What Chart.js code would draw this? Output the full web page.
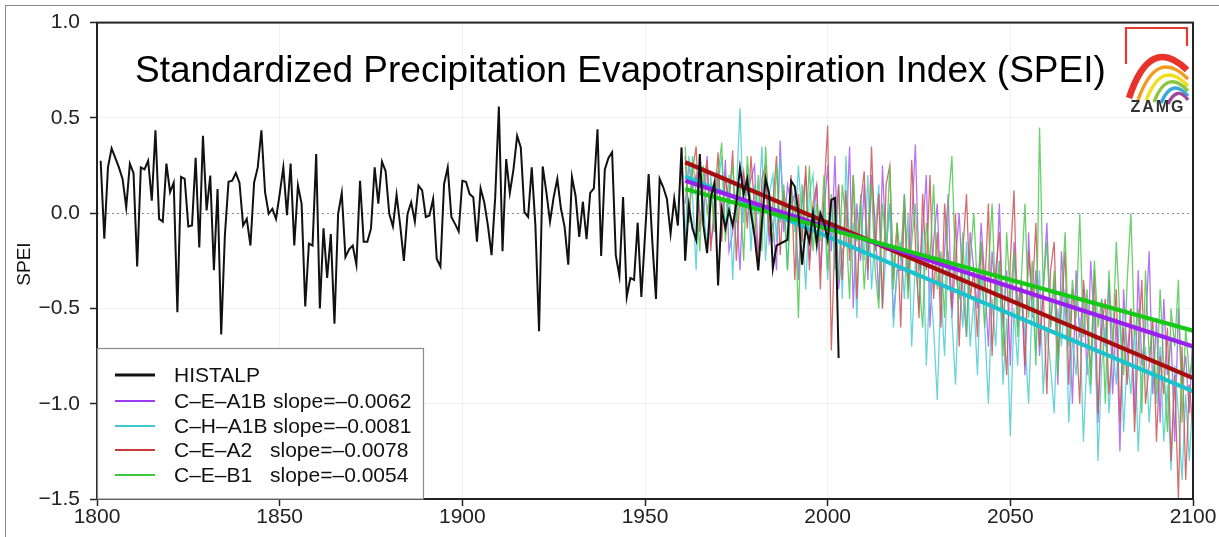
<!DOCTYPE html>
<html><head><meta charset="utf-8">
<script src="https://cdn.jsdelivr.net/npm/chart.js@4.4.0/dist/chart.umd.min.js"></script>
<style>
html,body{margin:0;padding:0;background:#fff;}
#wrap{position:relative;width:1219px;height:537px;overflow:hidden;}
#frame{position:absolute;left:5px;top:5px;right:-2px;bottom:-2px;border-top:1px solid #8a8a8a;border-left:1px solid #8a8a8a;pointer-events:none;}
canvas{display:block;}
</style></head><body>
<div id="wrap"><canvas id="c" width="1219" height="537"></canvas><div id="frame"></div></div>
<script>
// ---------- DATA ----------
const titleText = 'Standardized Precipitation Evapotranspiration Index (SPEI)';
const yAxisTitle = 'SPEI';
const xTicks = [1800, 1850, 1900, 1950, 2000, 2050, 2100];
const yTicks = [-1.5, -1.0, -0.5, 0.0, 0.5, 1.0];

const histStart = 1801;
const histalp = [
 0.275,-0.134,0.24,0.34,0.29,0.24,0.18,0.03,0.26,0.21,
 -0.28,0.24,0.23,0.275,0.066,0.435,-0.03,-0.044,0.26,0.11,
 0.16,-0.52,0.19,0.18,-0.07,-0.065,0.29,-0.18,0.406,0.014,
 0.197,-0.30,0.127,-0.636,-0.117,0.165,0.17,0.21,0.16,-0.065,
 -0.03,-0.17,0.16,0.24,0.435,0.11,-0.003,0.023,-0.03,0.10,
 0.24,-0.01,0.26,-0.17,0.145,0.05,-0.49,-0.16,-0.17,0.31,
 -0.50,-0.08,-0.34,-0.11,-0.58,-0.003,0.106,-0.23,-0.19,-0.17,
 -0.27,0.17,-0.15,-0.15,-0.08,0.24,0.05,0.27,0.22,-0.003,
 -0.07,0.096,-0.065,-0.25,-0.003,0.057,-0.044,0.145,0.12,-0.02,
 -0.012,0.075,-0.24,-0.28,0.153,0.24,-0.02,-0.056,-0.096,0.17,
 0.165,0.10,0.084,-0.15,0.13,0.057,-0.065,-0.22,0.084,0.56,
 -0.20,0.284,0.106,0.23,0.406,0.345,0.005,-0.02,0.24,-0.065,
 -0.62,0.245,0.11,-0.044,0.084,0.18,0.023,-0.073,-0.27,0.19,
 0.09,-0.125,0.06,-0.137,0.106,0.13,0.44,-0.225,0.23,0.29,
 0.32,-0.22,-0.33,0.084,-0.44,-0.34,-0.35,-0.05,-0.44,-0.117,
 0.205,-0.15,-0.45,0.18,0.136,0.075,-0.108,0.075,-0.065,0.345,
 -0.25,0.04,-0.08,-0.14,0.31,-0.065,-0.21,0.08,0.16,-0.38,
 0.02,-0.08,0.015,-0.065,0.05,0.24,0.10,0.18,0.0,-0.12,
 -0.30,-0.05,0.18,0.10,-0.29,-0.17,-0.16,-0.15,-0.14,0.17,
 0.14,0.0,-0.27,-0.08,-0.15,0.0,-0.16,0.0,-0.05,-0.14,
 0.07,0.08,-0.76
];

const projStart = 1961;
const ceA1B = [
 0.05,0.25,0.12,0.20,0.00,-0.05,0.30,-0.15,-0.05,0.22,
 -0.05,0.28,-0.20,-0.10,0.05,-0.30,0.20,0.10,0.18,0.25,
 -0.25,0.10,0.20,-0.15,-0.05,-0.30,0.38,-0.10,0.15,0.05,
 0.10,-0.35,0.05,0.20,-0.25,-0.05,0.15,-0.30,0.00,0.25,
 -0.20,0.30,-0.40,-0.20,-0.15,0.35,-0.50,0.05,-0.25,0.15,
 -0.35,0.20,-0.05,-0.45,0.25,-0.20,0.05,-0.55,-0.30,-0.30,
 0.10,-0.40,-0.05,0.36,-0.30,-0.10,0.20,-0.60,-0.15,0.05,
 -0.45,-0.20,0.10,-0.55,-0.25,0.00,-0.40,-0.65,-0.10,-0.30,
 -0.50,-0.05,-0.35,-0.70,-0.20,-0.45,0.05,-0.60,-0.30,-0.80,
 -0.15,-0.50,-0.35,-0.85,-0.10,-0.55,-0.30,-0.75,-0.40,-0.05,
 -0.60,-0.35,-0.90,-0.20,-0.55,-0.45,-1.00,-0.30,-0.65,-0.40,
 -0.85,-0.25,-0.60,-1.10,-0.45,-0.70,-0.35,-0.95,-0.55,-1.25,
 -0.40,-0.75,-0.50,-1.05,-0.30,-0.80,-0.60,-0.20,-0.95,-0.55,
 -1.10,-0.45,-0.85,-0.65,-1.20,-0.50,-0.90,-0.75,-1.05,-0.60
];
const chA1B = [
 -0.15,0.30,0.10,-0.30,0.25,0.05,-0.20,0.20,-0.05,0.15,
 0.30,-0.10,0.20,-0.35,0.10,0.55,-0.05,0.25,-0.20,0.15,
 0.00,0.35,-0.25,0.10,0.20,-0.15,0.30,0.05,-0.30,0.15,
 -0.10,0.25,-0.05,-0.40,0.10,0.20,-0.20,-0.10,0.05,-0.35,
 0.05,-0.30,0.15,-0.45,0.30,-0.20,-0.05,-0.55,0.10,-0.25,
 0.20,-0.40,-0.10,0.15,-0.50,-0.20,0.05,-0.60,-0.30,-0.15,
 -0.45,0.00,-0.70,-0.25,-0.50,-0.10,-0.80,-0.35,-0.60,-0.98,
 -0.40,-0.75,-0.20,-0.55,-0.90,-0.35,-0.60,-0.15,-0.70,-0.45,
 -0.85,-0.30,-0.60,-1.00,-0.45,-0.70,-0.25,-0.90,-0.55,-1.17,
 -0.50,-0.80,-0.35,-0.65,-1.00,-0.45,-0.75,-0.30,-0.95,-0.60,
 -0.80,-1.05,-0.50,-0.70,-0.40,-1.10,-0.65,-0.85,-0.55,-1.20,
 -0.75,-0.95,-0.45,-1.30,-0.80,-0.60,-1.05,-0.70,-0.90,-0.50,
 -1.15,-0.75,-0.95,-0.60,-1.25,-0.85,-0.70,-1.10,-0.80,-1.00,
 -0.70,-1.20,-0.90,-1.35,-0.80,-1.05,-1.40,-0.95,-1.30,-0.95
];
const ceA2 = [
 0.30,-0.05,0.22,0.35,-0.10,0.15,0.28,-0.20,0.05,0.32,
 -0.15,0.20,0.05,0.33,-0.25,0.10,0.22,-0.08,0.30,0.02,
 -0.30,0.18,0.25,-0.12,0.05,0.30,-0.22,0.12,-0.05,0.20,
 -0.35,0.10,-0.15,0.25,-0.30,0.05,0.15,-0.40,0.10,0.46,
 -0.72,-0.10,0.15,-0.35,0.12,-0.25,0.20,-0.45,0.05,0.22,
 -0.30,0.35,-0.20,0.10,-0.50,0.15,0.25,-0.35,-0.05,-0.60,
 0.05,-0.40,0.28,-0.15,-0.55,0.10,-0.30,0.20,-0.45,-0.10,
 -0.60,0.05,-0.25,-0.50,0.00,-0.70,-0.20,0.10,-0.45,-0.30,
 -0.65,-0.15,-0.40,0.05,-0.75,-0.30,-0.10,-0.55,-0.85,-0.25,
 0.12,-0.60,-0.35,-0.80,-0.20,-0.45,-0.05,-0.70,-0.40,-0.95,
 -0.30,-0.15,-0.75,-0.50,-0.20,-0.90,-0.40,-0.60,-1.00,-0.35,
 -0.55,-0.85,-0.30,-1.05,-0.60,-0.45,-0.95,-0.70,-0.40,-1.10,
 -0.60,-0.90,-0.50,-1.15,-0.70,-0.35,-1.00,-0.80,-0.55,-1.20,
 -0.75,-0.95,-0.60,-1.30,-0.85,-1.50,-0.70,-1.40,-0.90,-1.15
];
const ceB1 = [
 0.35,-0.05,0.30,0.10,-0.20,0.25,0.00,0.15,-0.10,0.20,
 0.37,-0.15,0.10,0.25,-0.05,0.15,-0.25,0.30,0.05,-0.10,
 0.20,-0.20,0.35,0.00,-0.15,0.25,-0.05,0.15,-0.30,0.10,
 0.05,-0.55,0.15,-0.10,0.25,-0.20,0.05,-0.15,0.20,-0.30,
 0.10,-0.20,-0.35,0.15,-0.05,-0.45,0.20,-0.15,0.05,-0.40,
 -0.10,0.15,-0.30,-0.50,0.05,-0.20,0.25,-0.40,-0.05,-0.25,
 0.10,-0.45,-0.15,0.05,-0.35,-0.60,-0.05,-0.25,0.15,-0.40,
 -0.20,-0.55,0.05,0.30,-0.30,-0.45,-0.10,-0.65,-0.25,0.00,
 -0.40,-0.15,-0.60,-0.30,0.05,-0.50,-0.25,-0.75,-0.10,-0.45,
 -0.20,-0.65,-0.35,0.05,-0.55,-0.25,-0.80,0.45,-0.40,-0.15,
 -0.60,-0.30,-0.85,-0.45,-0.10,-0.70,-0.35,-0.55,0.00,-0.65,
 -0.40,-0.90,-0.25,-0.60,-0.45,-1.00,-0.30,-0.70,-0.15,-0.55,
 -0.85,-0.35,0.00,-0.65,-0.50,-1.05,-0.30,-0.75,-0.60,-0.95,
 -0.40,-0.80,-1.15,-0.50,-0.70,-0.35,-1.10,-0.60,-0.85,-0.75
];

// linear trend lines: value at start and end year
const trendYears = [1961, 2100];
const trendA1B  = [0.170, -0.700];
const trendHA1B = [0.193, -0.935];
const trendA2   = [0.267, -0.865];
const trendB1   = [0.127, -0.617];

const legendNames  = ['HISTALP', 'C\u2013E\u2013A1B', 'C\u2013H\u2013A1B', 'C\u2013E\u2013A2', 'C\u2013E\u2013B1'];
const legendSlopes = ['', 'slope=\u20130.0062', 'slope=\u20130.0081', 'slope=\u20130.0078', 'slope=\u20130.0054'];
const legendColors = ['#111111', '#9b3cf0', '#3cc8cc', '#c83a3a', '#3cc83c'];
const legendWidths = [3, 2, 2, 2, 2];

// ---------- BUILD ----------
function pts(start, vals){ return vals.map((v,i)=>({x:start+i, y:v})); }
function tpts(years, vals){ return vals.map((v,i)=>({x:years[i], y:v})); }

const FONT = '"Liberation Sans", Arial, Helvetica, sans-serif';

const datasets = [
  {label:'HISTALP', data:pts(histStart, histalp), borderColor:'#111', borderWidth:2},
  {label:'tB1', data:tpts(trendYears, trendB1), borderColor:'#16c916', borderWidth:4.2},
  {label:'tA1B', data:tpts(trendYears, trendA1B), borderColor:'#9a1ff0', borderWidth:4.2},
  {label:'tA2', data:tpts(trendYears, trendA2), borderColor:'#a80e0e', borderWidth:4.2},
  {label:'tHA1B', data:tpts(trendYears, trendHA1B), borderColor:'#1cc2cc', borderWidth:4.2},
  {label:'C-E-B1', data:pts(projStart, ceB1), borderColor:'rgba(80,200,80,0.85)', borderWidth:1.3},
  {label:'C-E-A2', data:pts(projStart, ceA2), borderColor:'rgba(205,85,85,0.85)', borderWidth:1.3},
  {label:'C-H-A1B', data:pts(projStart, chA1B), borderColor:'rgba(80,205,210,0.85)', borderWidth:1.3},
  {label:'C-E-A1B', data:pts(projStart, ceA1B), borderColor:'rgba(170,90,245,0.85)', borderWidth:1.3}
].map(d=>Object.assign({pointRadius:0, tension:0, fill:false}, d));

const decor = {
  id:'decor',
  beforeDraw(chart){
    const c=chart.ctx; c.save(); c.fillStyle='#fff'; c.fillRect(0,0,chart.width,chart.height); c.restore();
  },
  beforeDatasetsDraw(chart){
    const c=chart.ctx, a=chart.chartArea, y=chart.scales.y.getPixelForValue(0);
    c.save(); c.strokeStyle='#8c8c8c'; c.lineWidth=1.2; c.setLineDash([2,3]);
    c.beginPath(); c.moveTo(a.left, Math.round(y)+0.5); c.lineTo(a.right, Math.round(y)+0.5); c.stroke(); c.restore();
  },
  afterDatasetsDraw(chart){
    const c=chart.ctx, a=chart.chartArea;
    c.save();
    c.strokeStyle='#222'; c.lineWidth=2;
    c.strokeRect(a.left, a.top, a.right-a.left, a.bottom-a.top);
    c.fillStyle='#000'; c.font='37px '+FONT; c.textBaseline='alphabetic'; c.textAlign='left';
    c.fillText(titleText, 135, 82);
    c.save(); c.translate(25, 264); c.rotate(-Math.PI/2);
    c.font='19px '+FONT; c.textAlign='center'; c.textBaseline='middle'; c.fillStyle='#111';
    c.fillText(yAxisTitle, 0, 0); c.restore();
    const lx=a.left+0.5, ly=348.5, lw=326, lh=a.bottom-348.5;
    c.fillStyle='#fff'; c.fillRect(lx, ly, lw, lh);
    c.strokeStyle='#8a8a8a'; c.lineWidth=1.2; c.strokeRect(lx, ly, lw, lh);
    const rows=[375, 401, 426, 450, 475];
    c.font='21px '+FONT; c.textBaseline='middle'; c.textAlign='left';
    legendNames.forEach((n,i)=>{
      c.strokeStyle=legendColors[i]; c.lineWidth=legendWidths[i];
      c.beginPath(); c.moveTo(115, rows[i]); c.lineTo(155, rows[i]); c.stroke();
      c.fillStyle='#111'; c.fillText(n, 174, rows[i]+1);
      if(legendSlopes[i]) c.fillText(legendSlopes[i], i===1||i===2?273:270, rows[i]+1);
    });
    c.strokeStyle='#e23a34'; c.lineWidth=2.2;
    c.beginPath(); c.moveTo(1126,64); c.lineTo(1126,28); c.lineTo(1187,28); c.lineTo(1187,46); c.stroke();
    const arcs=[
      ['#e8332b',6.5,1129,98,1150,34,1187,70],
      ['#f39a1f',3.4,1138,100,1157,47,1188,79],
      ['#f2dd1c',3.4,1146,101,1162,58,1188,86],
      ['#8cc63f',3.4,1154,102,1167,68,1188,91],
      ['#3aa8dc',3.4,1161,103,1172,77,1188,96],
      ['#9b4a9e',3.4,1168,104,1177,85,1188,100]
    ];
    c.lineCap='butt';
    arcs.forEach(r=>{ c.strokeStyle=r[0]; c.lineWidth=r[1]; c.beginPath(); c.moveTo(r[2],r[3]); c.quadraticCurveTo(r[4],r[5],r[6],r[7]); c.stroke(); });
    c.fillStyle='#333'; c.font='bold 16px '+FONT; c.textAlign='center'; c.textBaseline='alphabetic';
    try{ c.letterSpacing='2px'; }catch(e){}
    c.fillText('ZAMG', 1158, 112);
    c.restore();
  }
};

const fmtY = v => (v<0?'\u2212':'') + Math.abs(v).toFixed(1);

new Chart(document.getElementById('c'), {
  type:'line',
  data:{datasets},
  options:{
    responsive:false, animation:false, devicePixelRatio:1,
    layout:{padding:{left:0, right:26, top:20, bottom:0}},
    plugins:{legend:{display:false}, tooltip:{enabled:false}},
    scales:{
      x:{type:'linear', min:xTicks[0], max:xTicks[xTicks.length-1],
        afterBuildTicks(s){ s.ticks = xTicks.map(v=>({value:v})); },
        afterFit(s){ s.height = 38; },
        ticks:{callback:v=>String(v), font:{family:FONT, size:21}, color:'#222', padding:-1, maxRotation:0},
        grid:{color:'rgba(0,0,0,0.05)', tickColor:'#222', tickLength:7, tickWidth:1.5},
        border:{color:'#222', width:2}
      },
      y:{min:yTicks[0], max:yTicks[yTicks.length-1],
        afterBuildTicks(s){ s.ticks = yTicks.map(v=>({value:v})); },
        afterFit(s){ s.width = 97; },
        ticks:{callback:fmtY, font:{family:FONT, size:21}, color:'#222', padding:10},
        grid:{color:c=>c.tick && c.tick.value===0 ? 'rgba(0,0,0,0)' : 'rgba(0,0,0,0.05)', tickColor:'#222', tickLength:7, tickWidth:1.5},
        border:{color:'#222', width:2}
      }
    }
  },
  plugins:[decor]
});
</script>
</body></html>
